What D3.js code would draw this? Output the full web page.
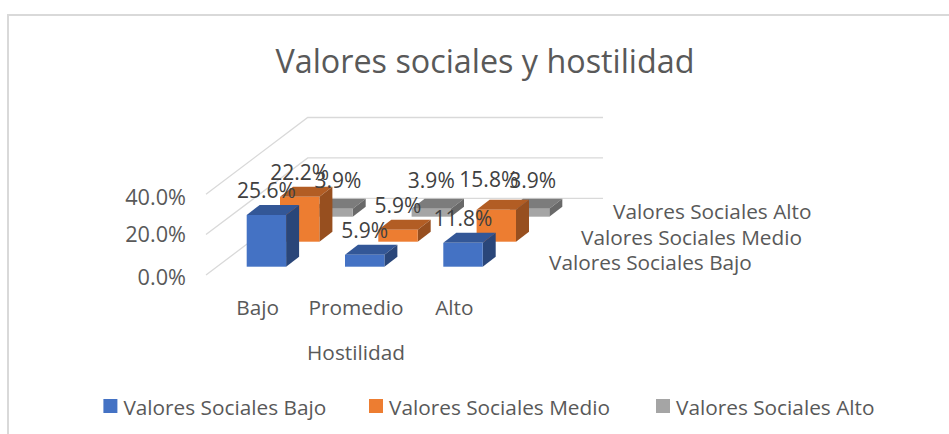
<!DOCTYPE html>
<html><head><meta charset="utf-8">
<script src="https://cdn.jsdelivr.net/npm/d3@7/dist/d3.min.js"></script>
<style>html,body{margin:0;padding:0;background:#fff}svg{display:block}text{font-family:"Open Sans",sans-serif}</style>
</head><body><svg id="c" width="949" height="434"></svg>
<script>
const categories = ["Bajo", "Promedio", "Alto"];
const seriesNames = ["Valores Sociales Bajo", "Valores Sociales Medio", "Valores Sociales Alto"];
const bajo = [25.6, 5.9, 11.8];
const medio = [22.2, 5.9, 15.8];
const alto = [3.9, 3.9, 3.9];
const yTicks = [0, 20, 40];
const title = "Valores sociales y hostilidad";
const xTitle = "Hostilidad";

const front = ["#4472c4", "#ed7d31", "#a5a5a5"];
const topC = ["#335797", "#b25d24", "#7c7c7c"];
const side = ["#2a4679", "#974f1f", "#696969"];

const svg = d3.select("#c");
svg.append("path").attr("d", "M8 434V15H949").attr("fill", "none").attr("stroke", "#d9d9d9").attr("stroke-width", 2);

// oblique projection: x along categories, depth along series, y along value
const barW = 39.4, depthX = 33.3, depthY = -25, barDX = 13, barDY = -10;
const xScale = d3.scalePoint().domain(categories).range([246.7, 443.3]);
const yScale = d3.scaleLinear().domain([0, 60]).range([266.7, 145.5]);
const px = (c, s) => xScale(c) + s * depthX;
const py = (s, v) => yScale(v) + s * depthY;

// gridlines
const grid = svg.append("g").attr("fill", "none").attr("stroke", "#d9d9d9").attr("stroke-width", 1.3);
const g0 = yScale(0);
yTicks.forEach(t => {
  const yb = yScale(t) - g0 + 198.3;
  grid.append("path").attr("d", `M206 ${yb + 76.7}L307.7 ${yb}H603`);
});

// bars back to front
[alto, medio, bajo].map((vals, i) => ({vals, s: 2 - i})).forEach(({vals, s}) => {
  const g = svg.append("g");
  categories.forEach((c, i) => {
    const x = px(c, s), yb = py(s, 0), yt = py(s, vals[i]);
    g.append("path").attr("fill", topC[s]).attr("d",
      `M${x} ${yt}l${barDX} ${barDY}h${barW}l${-barDX} ${-barDY}z`);
    g.append("path").attr("fill", side[s]).attr("d",
      `M${x + barW} ${yt}l${barDX} ${barDY}V${yb + barDY}l${-barDX} ${-barDY}z`);
    g.append("rect").attr("x", x).attr("y", yt).attr("width", barW).attr("height", yb - yt).attr("fill", front[s]);
  });
});

// data labels
const labelNudge = {"2-0": [5, 0], "2-2": [3, 0], "1-2": [-7.5, -5.7]};
const lab = svg.append("g").attr("fill", "#404040").attr("font-size", 21).attr("text-anchor", "middle");
[bajo, medio, alto].forEach((vals, s) => categories.forEach((c, i) => {
  const n = labelNudge[s + "-" + i] || [0, 0];
  lab.append("text")
    .attr("x", px(c, s) + barW / 2 + n[0])
    .attr("y", py(s, vals[i]) - (s === 2 ? 21 : 17) + n[1])
    .text(d3.format(".1f")(vals[i]) + "%");
}));

// value axis
const ax = svg.append("g").attr("fill", "#595959").attr("font-size", 21.7).attr("text-anchor", "end");
const yLab = [285, 242, 205];
yTicks.forEach((t, i) => ax.append("text").attr("x", 186).attr("y", yLab[i]).text(d3.format(".1f")(t) + "%"));

// category axis
const cat = svg.append("g").attr("fill", "#595959").attr("font-size", 20.8).attr("text-anchor", "middle");
categories.forEach(c => cat.append("text").attr("x", xScale(c) + 11).attr("y", 315).text(c));
cat.append("text").attr("x", 356).attr("y", 360).text(xTitle);

// series axis
const serX = [549, 581, 613], serY = [270, 245, 219];
seriesNames.forEach((n, i) => svg.append("text").attr("x", serX[i]).attr("y", serY[i])
  .attr("fill", "#595959").attr("font-size", 20.8).text(n));

// title
svg.append("text").attr("x", 485).attr("y", 73).attr("text-anchor", "middle")
  .attr("fill", "#595959").attr("font-size", 32.3).text(title);

// legend
const legX = [103.4, 369, 656];
seriesNames.forEach((n, i) => {
  svg.append("rect").attr("x", legX[i]).attr("y", 399).attr("width", 14).attr("height", 14).attr("fill", front[i]);
  svg.append("text").attr("x", legX[i] + 20).attr("y", 415).attr("fill", "#595959").attr("font-size", 20.8).text(n);
});
</script></body></html>
